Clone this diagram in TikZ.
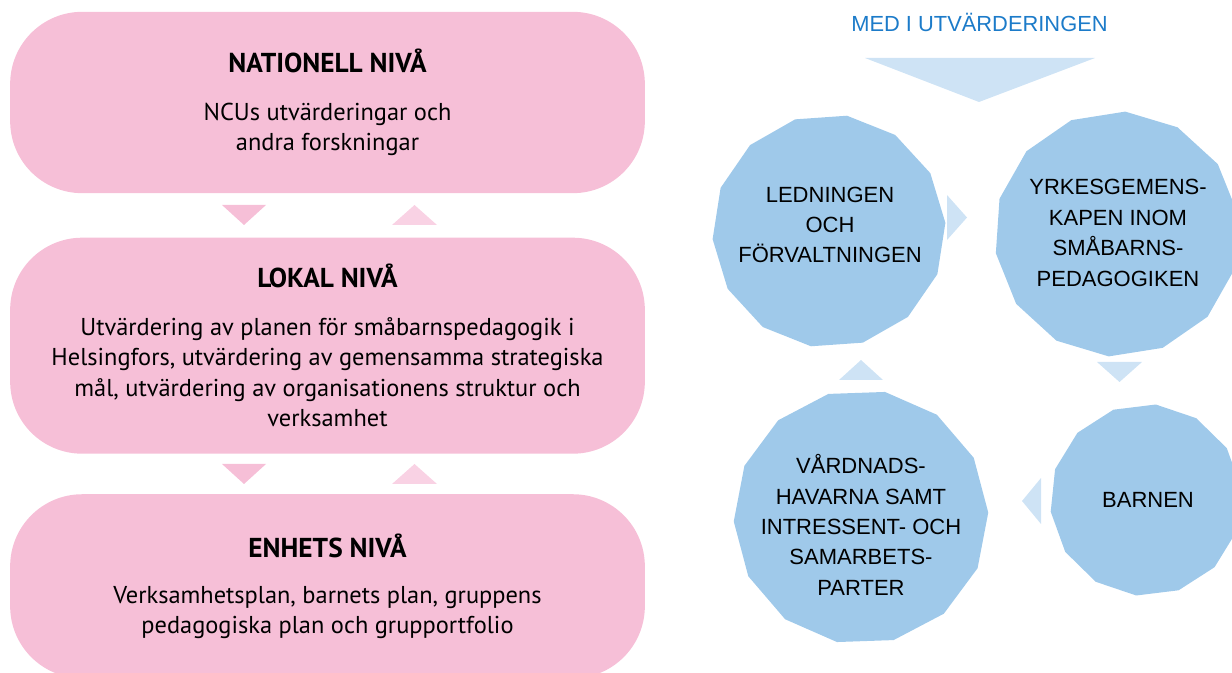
\documentclass[tikz,border=0pt]{standalone}
\usepackage{fontspec}
\setmainfont{Liberation Sans}
\newfontfamily\grotesk{PT Sans}
\usetikzlibrary{positioning,shapes.geometric}
\definecolor{pinkbox}{HTML}{F6BFD7}
\definecolor{pinklight}{HTML}{F9D2E4}
\definecolor{ringblue}{HTML}{9FC9EA}
\definecolor{bluelight}{HTML}{CEE3F5}
\definecolor{headblue}{HTML}{1C7BC9}
\newcommand\lvltitle[1]{{\bfseries\fontsize{20.5}{22.8}\selectfont #1}}

\begin{document}
\begin{tikzpicture}[
  x=0.75pt, y=-0.75pt,
  lvlbox/.style={fill=pinkbox, rounded corners=54pt, minimum width=476pt, align=center,
    inner sep=0pt, font=\grotesk\fontsize{18.3}{22.8}\selectfont},
  ring/.style={regular polygon, regular polygon sides=14, fill=ringblue, inner sep=0pt},
  ringtxt/.style={align=center, inner sep=0pt, font=\fontsize{16.5}{22.8}\selectfont},
  hdr/.style={text=headblue, font=\fontsize{16.4}{20}\selectfont},
  pinkdown/.style={fill=pinkbox},
  pinkup/.style={fill=pinklight},
  bluetri/.style={fill=bluelight}
]
\useasboundingbox (0,0) rectangle (1232,673);
\clip (0,0) rectangle (1232,673);

\node[lvlbox, minimum height=136pt] (nat) at (327.5,102.5)
  {\lvltitle{NATIONELL NIVÅ}\\[13pt]NCUs utvärderingar och\\andra forskningar};
\node[lvlbox, minimum height=162pt, below=33pt of nat] (lok)
  {\lvltitle{LOKAL NIVÅ}\\[13pt]Utvärdering av planen för småbarnspedagogik i\\
   Helsingfors, utvärdering av gemensamma strategiska\\
   mål, utvärdering av organisationens struktur och\\verksamhet};
\node[lvlbox, minimum height=138pt, below=30pt of lok] (enh)
  {\lvltitle{ENHETS NIVÅ}\\[12pt]Verksamhetsplan, barnets plan, gruppens\\
   pedagogiska plan och grupportfolio};

\fill[pinkdown] (222,205) -- (266,205) -- (244,225) -- cycle;
\fill[pinkup] (392,225) -- (414.5,205) -- (437,225) -- cycle;
\fill[pinkdown] (222,464) -- (266,464) -- (244,484) -- cycle;
\fill[pinkup] (392,484) -- (414.5,464) -- (437,484) -- cycle;

\node[hdr] (head) at (979.5,22) {MED I UTVÄRDERINGEN};
\fill[bluetri] (865,58) -- (1095,58) -- (979,102) -- cycle;

\node[ring, minimum size=175pt, shape border rotate=4] (led) at (829,231) {};
\node[ring, minimum size=184pt, shape border rotate=9] (yrk) at (1117,234) {};
\node[ring, minimum size=191pt, shape border rotate=2] (vard) at (861,517) {};
\node[ring, minimum size=144pt, shape border rotate=7] (barn) at (1146,500) {};

\node[ringtxt] (ledtxt) at (830,225) {LEDNINGEN\\OCH\\FÖRVALTNINGEN};
\node[ringtxt] (yrktxt) at (1118,233) {YRKESGEMENS-\\KAPEN INOM\\SMÅBARNS-\\PEDAGOGIKEN};
\node[ringtxt] (vardtxt) at (861,525) {VÅRDNADS-\\HAVARNA SAMT\\INTRESSENT- OCH\\SAMARBETS-\\PARTER};
\node[ringtxt] (barntxt) at (1148,500) {BARNEN};

\fill[bluetri] (947,195) -- (967,217.5) -- (947,240) -- cycle;
\fill[bluetri] (1097,362) -- (1142,362) -- (1119.5,382) -- cycle;
\fill[bluetri] (1041,478) -- (1022,501) -- (1041,524) -- cycle;
\fill[bluetri] (839,380) -- (861,360) -- (883,380) -- cycle;
\end{tikzpicture}
\end{document}
